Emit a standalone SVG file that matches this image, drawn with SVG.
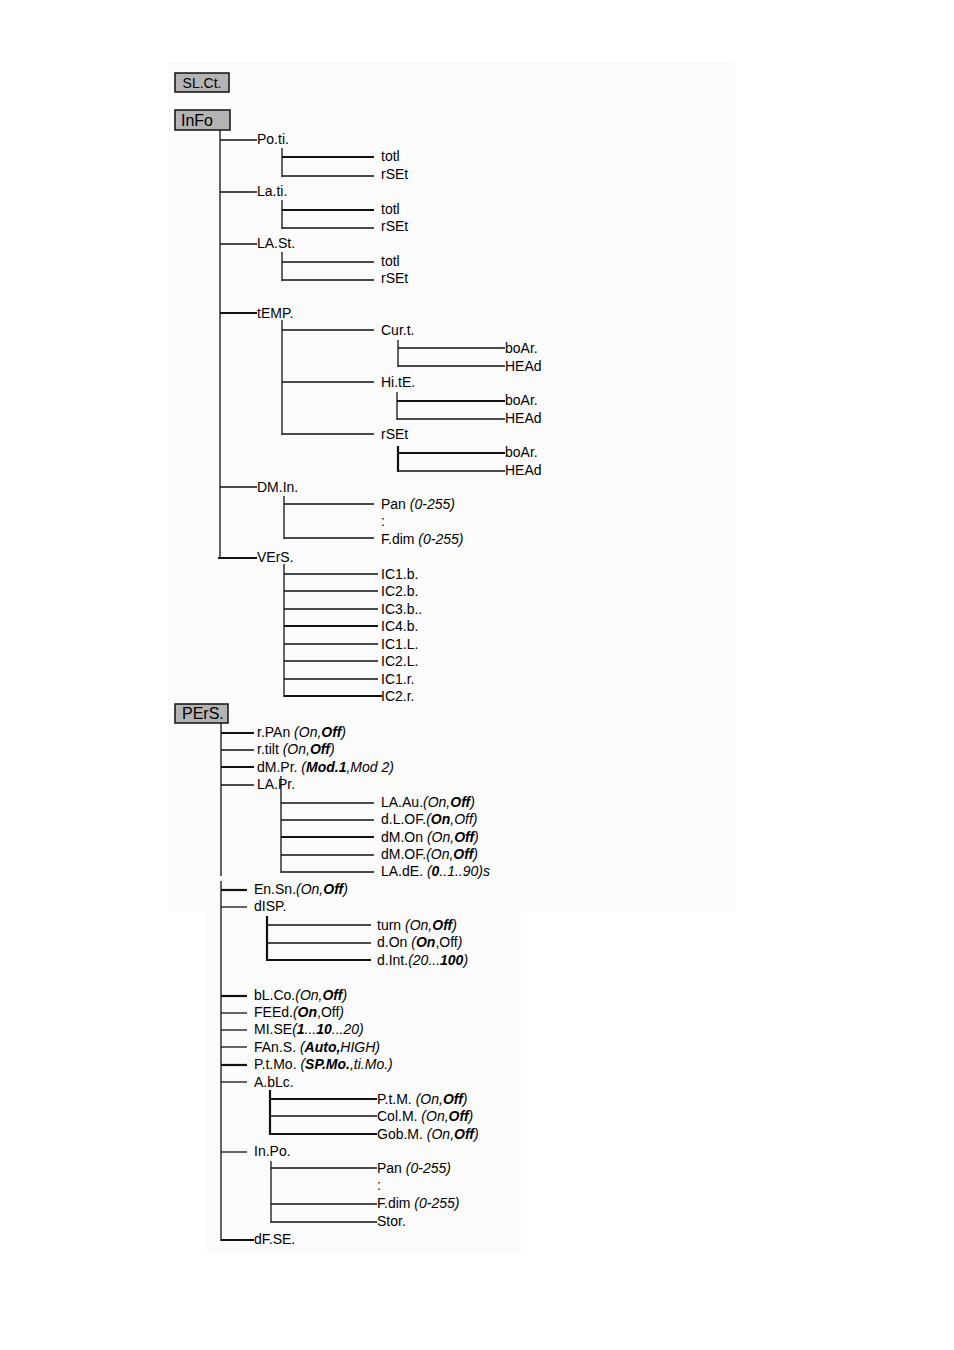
<svg xmlns="http://www.w3.org/2000/svg" width="954" height="1350" viewBox="0 0 954 1350">
<style>
text{font-family:"Liberation Sans",Arial,sans-serif;font-size:14px;fill:#000}
.i{font-style:italic}
.b{font-weight:bold;font-style:italic}
.box{fill:#b4b4b4;stroke:#111;stroke-width:1.5}
.bt{font-size:16px}
#connectors line{stroke:#111;stroke-width:1.3}
#connectors line.t{stroke-width:2.2}
</style>
<rect width="954" height="1350" fill="#fff"/>
<rect x="168" y="62" width="567" height="850" fill="#fbfbfb"/>
<rect x="206" y="912" width="315" height="341" fill="#fbfbfb"/>

<g id="connectors">
<line x1="220" y1="130" x2="220" y2="559"/>
<line x1="220" y1="140" x2="257" y2="140"/>
<line x1="282" y1="148" x2="282" y2="177"/>
<line class="t" x1="282" y1="157" x2="374" y2="157"/>
<line x1="282" y1="176" x2="374" y2="176"/>
<line x1="220" y1="192" x2="257" y2="192"/>
<line x1="282" y1="200" x2="282" y2="229"/>
<line class="t" x1="282" y1="210" x2="374" y2="210"/>
<line x1="282" y1="228" x2="374" y2="228"/>
<line x1="220" y1="244" x2="257" y2="244"/>
<line x1="282" y1="252" x2="282" y2="281"/>
<line x1="282" y1="262" x2="374" y2="262"/>
<line x1="282" y1="280" x2="374" y2="280"/>
<line class="t" x1="220" y1="313" x2="257" y2="313"/>
<line x1="282" y1="320" x2="282" y2="435"/>
<line x1="282" y1="330" x2="374" y2="330"/>
<line x1="282" y1="382" x2="374" y2="382"/>
<line x1="282" y1="434" x2="374" y2="434"/>
<line x1="398" y1="340" x2="398" y2="367"/>
<line x1="398" y1="348" x2="505" y2="348"/>
<line x1="398" y1="366" x2="505" y2="366"/>
<line x1="397" y1="392" x2="397" y2="420"/>
<line class="t" x1="397" y1="401" x2="505" y2="401"/>
<line x1="397" y1="419" x2="505" y2="419"/>
<line class="t" x1="398" y1="446" x2="398" y2="472"/>
<line class="t" x1="398" y1="453" x2="505" y2="453"/>
<line x1="398" y1="471" x2="505" y2="471"/>
<line x1="220" y1="487" x2="257" y2="487"/>
<line x1="284" y1="496" x2="284" y2="539"/>
<line x1="284" y1="504" x2="374" y2="504"/>
<line x1="284" y1="538" x2="374" y2="538"/>
<line class="t" x1="218" y1="558" x2="257" y2="558"/>
<line x1="284" y1="564" x2="284" y2="697"/>
<line x1="284" y1="574" x2="378" y2="574"/>
<line x1="284" y1="591" x2="378" y2="591"/>
<line x1="284" y1="609" x2="378" y2="609"/>
<line class="t" x1="284" y1="626" x2="378" y2="626"/>
<line x1="284" y1="644" x2="378" y2="644"/>
<line x1="284" y1="661" x2="378" y2="661"/>
<line x1="284" y1="679" x2="378" y2="679"/>
<line class="t" x1="284" y1="696" x2="382" y2="696"/>
<line x1="221" y1="723" x2="221" y2="876"/>
<line x1="221" y1="881" x2="221" y2="1241"/>
<line class="t" x1="221" y1="733" x2="254" y2="733"/>
<line x1="221" y1="750" x2="254" y2="750"/>
<line class="t" x1="221" y1="767" x2="254" y2="767"/>
<line x1="221" y1="785" x2="254" y2="785"/>
<line x1="281" y1="776" x2="281" y2="873"/>
<line x1="281" y1="803" x2="374" y2="803"/>
<line x1="281" y1="820" x2="374" y2="820"/>
<line class="t" x1="281" y1="837" x2="374" y2="837"/>
<line x1="281" y1="855" x2="374" y2="855"/>
<line x1="281" y1="872" x2="374" y2="872"/>
<line class="t" x1="221" y1="890" x2="247" y2="890"/>
<line x1="221" y1="907" x2="247" y2="907"/>
<line class="t" x1="267" y1="916" x2="267" y2="961"/>
<line x1="267" y1="925" x2="371" y2="925"/>
<line x1="267" y1="943" x2="371" y2="943"/>
<line class="t" x1="267" y1="960" x2="371" y2="960"/>
<line class="t" x1="221" y1="996" x2="247" y2="996"/>
<line x1="221" y1="1013" x2="247" y2="1013"/>
<line x1="221" y1="1030" x2="247" y2="1030"/>
<line x1="221" y1="1047" x2="247" y2="1047"/>
<line class="t" x1="221" y1="1065" x2="247" y2="1065"/>
<line x1="221" y1="1082" x2="247" y2="1082"/>
<line class="t" x1="270" y1="1090" x2="270" y2="1135"/>
<line class="t" x1="270" y1="1099" x2="377" y2="1099"/>
<line x1="270" y1="1116" x2="377" y2="1116"/>
<line class="t" x1="270" y1="1134" x2="377" y2="1134"/>
<line x1="221" y1="1152" x2="247" y2="1152"/>
<line x1="271" y1="1161" x2="271" y2="1223"/>
<line x1="271" y1="1168" x2="377" y2="1168"/>
<line x1="271" y1="1204" x2="377" y2="1204"/>
<line x1="271" y1="1222" x2="377" y2="1222"/>
<line class="t" x1="221" y1="1240" x2="254" y2="1240"/>
</g>

<g id="SLCt"><rect class="box" x="175" y="73" width="54" height="19"/><text x="202" y="88" text-anchor="middle">SL.Ct.</text></g>
<g id="InFo"><rect class="box" x="175" y="110" width="55" height="20"/><text class="bt" x="181" y="126">InFo</text></g>
<g id="Poti"><text x="257" y="144">Po.ti.</text></g>
<g id="Poti_totl"><text x="381" y="161">totl</text></g>
<g id="Poti_rSEt"><text x="381" y="179">rSEt</text></g>
<g id="Lati"><text x="257" y="196">La.ti.</text></g>
<g id="Lati_totl"><text x="381" y="214">totl</text></g>
<g id="Lati_rSEt"><text x="381" y="231">rSEt</text></g>
<g id="LASt"><text x="257" y="248">LA.St.</text></g>
<g id="LASt_totl"><text x="381" y="266">totl</text></g>
<g id="LASt_rSEt"><text x="381" y="283">rSEt</text></g>
<g id="tEMP"><text x="257" y="318">tEMP.</text></g>
<g id="Curt"><text x="381" y="335">Cur.t.</text></g>
<g id="Curt_boAr"><text x="505" y="353">boAr.</text></g>
<g id="Curt_HEAd"><text x="505" y="371">HEAd</text></g>
<g id="HitE"><text x="381" y="387">Hi.tE.</text></g>
<g id="HitE_boAr"><text x="505" y="405">boAr.</text></g>
<g id="HitE_HEAd"><text x="505" y="423">HEAd</text></g>
<g id="tEMP_rSEt"><text x="381" y="439">rSEt</text></g>
<g id="rSEt_boAr"><text x="505" y="457">boAr.</text></g>
<g id="rSEt_HEAd"><text x="505" y="475">HEAd</text></g>
<g id="DMIn"><text x="257" y="492">DM.In.</text></g>
<g id="DMIn_Pan"><text x="381" y="509">Pan <tspan class="i">(0-255)</tspan></text></g>
<g id="DMIn_dots"><text x="381" y="526">:</text></g>
<g id="DMIn_Fdim"><text x="381" y="544">F.dim <tspan class="i">(0-255)</tspan></text></g>
<g id="VErS"><text x="257" y="562">VErS.</text></g>
<g id="IC1b"><text x="381" y="579">IC1.b.</text></g>
<g id="IC2b"><text x="381" y="596">IC2.b.</text></g>
<g id="IC3b"><text x="381" y="614">IC3.b..</text></g>
<g id="IC4b"><text x="381" y="631">IC4.b.</text></g>
<g id="IC1L"><text x="381" y="649">IC1.L.</text></g>
<g id="IC2L"><text x="381" y="666">IC2.L.</text></g>
<g id="IC1r"><text x="381" y="684">IC1.r.</text></g>
<g id="IC2r"><text x="381" y="701">IC2.r.</text></g>

<g id="PErS"><rect class="box" x="175" y="704" width="53" height="19"/><text class="bt" x="182" y="719">PErS.</text></g>
<g id="rPAn"><text x="257" y="737">r.PAn <tspan class="i">(On,</tspan><tspan class="b">Off</tspan><tspan class="i">)</tspan></text></g>
<g id="rtilt"><text x="257" y="754">r.tilt <tspan class="i">(On,</tspan><tspan class="b">Off</tspan><tspan class="i">)</tspan></text></g>
<g id="dMPr"><text x="257" y="772">dM.Pr. <tspan class="i">(</tspan><tspan class="b">Mod.1</tspan><tspan class="i">,Mod 2)</tspan></text></g>
<g id="LAPr"><text x="257" y="789">LA.Pr.</text></g>
<g id="LAAu"><text x="381" y="807">LA.Au.<tspan class="i">(On,</tspan><tspan class="b">Off</tspan><tspan class="i">)</tspan></text></g>
<g id="dLOF"><text x="381" y="824">d.L.OF.<tspan class="i">(</tspan><tspan class="b">On</tspan><tspan class="i">,Off)</tspan></text></g>
<g id="dMOn"><text x="381" y="842">dM.On <tspan class="i">(On,</tspan><tspan class="b">Off</tspan><tspan class="i">)</tspan></text></g>
<g id="dMOF"><text x="381" y="859">dM.OF.<tspan class="i">(On,</tspan><tspan class="b">Off</tspan><tspan class="i">)</tspan></text></g>
<g id="LAdE"><text x="381" y="876">LA.dE. <tspan class="i">(</tspan><tspan class="b">0</tspan><tspan class="i">..1..90)s</tspan></text></g>
<g id="EnSn"><text x="254" y="894">En.Sn.<tspan class="i">(On,</tspan><tspan class="b">Off</tspan><tspan class="i">)</tspan></text></g>
<g id="dISP"><text x="254" y="911">dISP.</text></g>
<g id="turn"><text x="377" y="930">turn <tspan class="i">(On,</tspan><tspan class="b">Off</tspan><tspan class="i">)</tspan></text></g>
<g id="dOn"><text x="377" y="947">d.On <tspan class="i">(</tspan><tspan class="b">On</tspan>,Off<tspan class="i">)</tspan></text></g>
<g id="dInt"><text x="377" y="965">d.Int.<tspan class="i">(20...</tspan><tspan class="b">100</tspan><tspan class="i">)</tspan></text></g>
<g id="bLCo"><text x="254" y="1000">bL.Co.<tspan class="i">(On,</tspan><tspan class="b">Off</tspan><tspan class="i">)</tspan></text></g>
<g id="FEEd"><text x="254" y="1017">FEEd.<tspan class="i">(</tspan><tspan class="b">On</tspan>,Off<tspan class="i">)</tspan></text></g>
<g id="MISE"><text x="254" y="1034">MI.SE<tspan class="i">(</tspan><tspan class="b">1</tspan><tspan class="i">...</tspan><tspan class="b">10</tspan><tspan class="i">...20)</tspan></text></g>
<g id="FAnS"><text x="254" y="1052">FAn.S. <tspan class="i">(</tspan><tspan class="b">Auto,</tspan><tspan class="i">HIGH)</tspan></text></g>
<g id="PtMo"><text x="254" y="1069">P.t.Mo. <tspan class="i">(</tspan><tspan class="b">SP.Mo.</tspan><tspan class="i">,ti.Mo.)</tspan></text></g>
<g id="AbLc"><text x="254" y="1087">A.bLc.</text></g>
<g id="PtM"><text x="377" y="1104">P.t.M. <tspan class="i">(On,</tspan><tspan class="b">Off</tspan><tspan class="i">)</tspan></text></g>
<g id="ColM"><text x="377" y="1121">Col.M. <tspan class="i">(On,</tspan><tspan class="b">Off</tspan><tspan class="i">)</tspan></text></g>
<g id="GobM"><text x="377" y="1139">Gob.M. <tspan class="i">(On,</tspan><tspan class="b">Off</tspan><tspan class="i">)</tspan></text></g>
<g id="InPo"><text x="254" y="1156">In.Po.</text></g>
<g id="InPo_Pan"><text x="377" y="1173">Pan <tspan class="i">(0-255)</tspan></text></g>
<g id="InPo_dots"><text x="377" y="1190">:</text></g>
<g id="InPo_Fdim"><text x="377" y="1208">F.dim <tspan class="i">(0-255)</tspan></text></g>
<g id="Stor"><text x="377" y="1226">Stor.</text></g>
<g id="dFSE"><text x="254" y="1244">dF.SE.</text></g>
</svg>
